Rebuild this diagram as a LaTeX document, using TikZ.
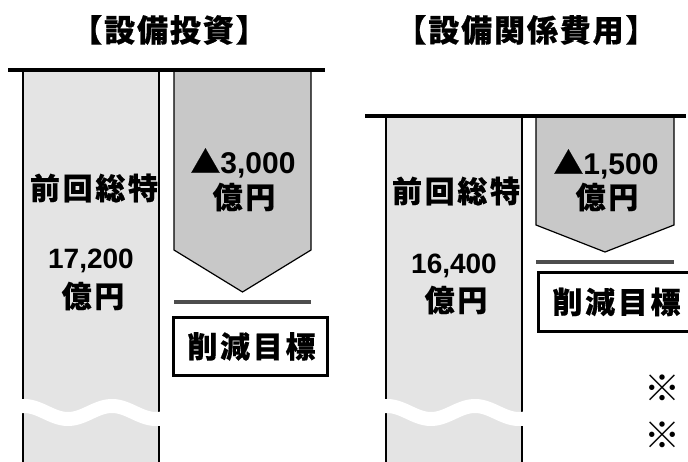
\documentclass[tikz,border=0pt]{standalone}
\usepackage{fontspec}
\newfontfamily\jp{Noto Sans CJK JP}[LetterSpace=9, BoldFeatures={FakeBold=0.4}]
\newfontfamily\jpt{Noto Sans CJK JP}[LetterSpace=6, BoldFeatures={FakeBold=0.6}]
\newfontfamily\jpn{Noto Sans CJK JP}
\newfontfamily\ar{Liberation Sans}
\definecolor{colfill}{HTML}{E4E4E4}
\definecolor{pentfill}{HTML}{C8C8C8}
\definecolor{darkline}{HTML}{4D4D4D}
\begin{document}
\begin{tikzpicture}[x=1pt,y=-1pt,
  txt/.style={inner sep=0pt, font=\jp\bfseries\fontsize{30}{34}\selectfont},
  num/.style={inner sep=0pt, font=\ar\bfseries\fontsize{28}{32}\selectfont},
  ttl/.style={inner sep=0pt, font=\jpt\bfseries\fontsize{31}{34}\selectfont},
  notemark/.style={inner sep=0pt, font=\jpn\fontsize{36}{40}\selectfont},
  colshape/.style={fill=colfill, draw=black, line width=1.3pt},
  pentshape/.style={fill=pentfill, draw=black, line width=1.2pt, line join=miter},
  goalline/.style={draw=darkline, line width=4.8pt},
  topbar/.style={draw=black, line width=4.8pt},
  goalbox/.style={draw=black, line width=3pt, fill=white, minimum height=58pt, inner sep=0pt, font=\jp\bfseries\fontsize{30}{34}\selectfont},
  wave/.style={draw=white, line width=14pt}]
\useasboundingbox (0,0) rectangle (688,462);

% titles
\node[ttl] (t1) at (169,30) {【設備投資】};
\node[ttl] (t2) at (526,30) {【設備関係費用】};

% ---------- left chart ----------
\path[colshape] (23,470) -- (23,70) -- (159,70) -- (159,470);
\draw[wave] plot[domain=14:168, samples=80, smooth] (\x, {412.5-6.5*cos(4.0909*(\x-24))});
\path[pentshape] (174,70) -- (311,70) -- (311,250) -- (242.5,292) -- (174,250) -- cycle;
\draw[goalline] (174,302) -- (311,302);
\node[goalbox, minimum width=154pt] (g1) at (250,346.5) {\hspace*{3pt}削減目標};
\draw[topbar] (8,70) -- (325,70);

\node[txt] (a1) at (94,188) {前回総特};
\node[num] (a2) at (91,261) {17,200};
\node[txt] (a3) at (93,296) {億円};
\node[txt] (b1) at (243,163) {▲\ar 3,000};
\node[txt] (b2) at (244,197) {億円};

% ---------- right chart ----------
\path[colshape] (386,470) -- (386,116) -- (522,116) -- (522,470);
\draw[wave] plot[domain=377:531, samples=80, smooth] (\x, {412.5-6.5*cos(4.0909*(\x-387))});
\path[pentshape] (536,116) -- (674,116) -- (674,225) -- (605,252) -- (536,225) -- cycle;
\draw[goalline] (536,262) -- (674,262);
\node[goalbox, minimum width=154pt] (g2) at (615,302) {\hspace*{3pt}削減目標};
\draw[topbar] (365,116) -- (686,116);

\node[txt] (c1) at (456,191) {前回総特};
\node[num] (c2) at (454,266) {16,400};
\node[txt] (c3) at (456,300) {億円};
\node[txt] (d1) at (606,164) {▲\ar 1,500};
\node[txt] (d2) at (607,197) {億円};

\node[notemark] (n1) at (662,388) {※};
\node[notemark] (n2) at (662,435) {※};
\end{tikzpicture}
\end{document}
